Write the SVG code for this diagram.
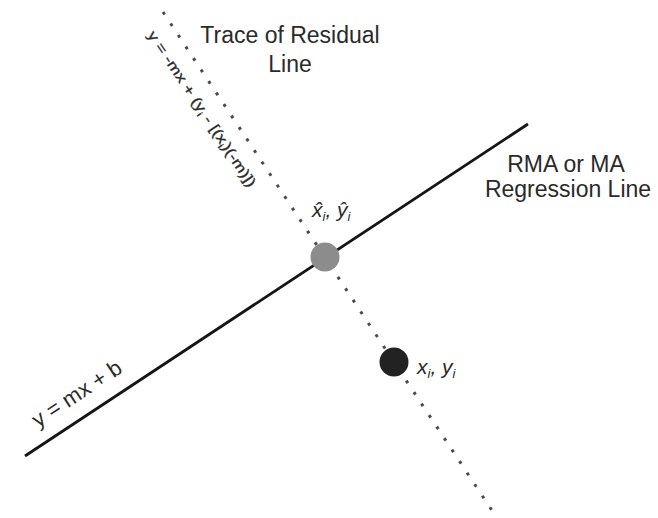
<svg xmlns="http://www.w3.org/2000/svg" width="658" height="518" viewBox="0 0 658 518">
<style>
.lbl{font-family:"Liberation Sans",Arial,sans-serif;fill:#2a2a2a}
.it{font-style:italic}
.sub{font-size:0.62em}
</style>
<rect width="658" height="518" fill="#ffffff"/>
<g id="connectors">
<line id="residual-line" x1="163" y1="12" x2="493" y2="512" stroke="#4a4a4a" stroke-width="3" stroke-dasharray="3 10.8"/>
<line id="regression-line" x1="25" y1="456" x2="528" y2="124" stroke="#151515" stroke-width="2.8"/>
</g>
<g id="label-trace">
<text class="lbl" x="290" y="43" font-size="23" text-anchor="middle">Trace of Residual</text>
<text class="lbl" x="290" y="72" font-size="23" text-anchor="middle">Line</text>
</g>
<g id="label-residual-eq">
<text class="lbl" font-size="14" stroke="#2a2a2a" stroke-width="0.3" transform="translate(147,35) rotate(56.4)" textLength="184" lengthAdjust="spacingAndGlyphs">y = -mx + (y<tspan class="sub" dy="3">i</tspan><tspan dy="-3"> - [(x</tspan><tspan class="sub" dy="3">i</tspan><tspan dy="-3">)(-m)])</tspan></text>
</g>
<g id="label-regression">
<text class="lbl" x="566" y="172" font-size="23" text-anchor="middle">RMA or MA</text>
<text class="lbl" x="568" y="197" font-size="23" text-anchor="middle">Regression Line</text>
</g>
<g id="label-ymxb">
<text class="lbl" font-size="22" transform="translate(38,428) rotate(-33.4)">y = mx + b</text>
</g>
<g id="node-projected">
<circle cx="325" cy="257" r="14.5" fill="#8c8c8c"/>
<text class="lbl it" x="312" y="217" font-size="21">x̂<tspan class="sub" dy="4">i</tspan><tspan dy="-4">, ŷ</tspan><tspan class="sub" dy="4">i</tspan></text>
</g>
<g id="node-observed">
<circle cx="394" cy="362" r="14.5" fill="#222222"/>
<text class="lbl it" x="417" y="374" font-size="21">x<tspan class="sub" dy="4">i</tspan><tspan dy="-4">, y</tspan><tspan class="sub" dy="4">i</tspan></text>
</g>
</svg>
